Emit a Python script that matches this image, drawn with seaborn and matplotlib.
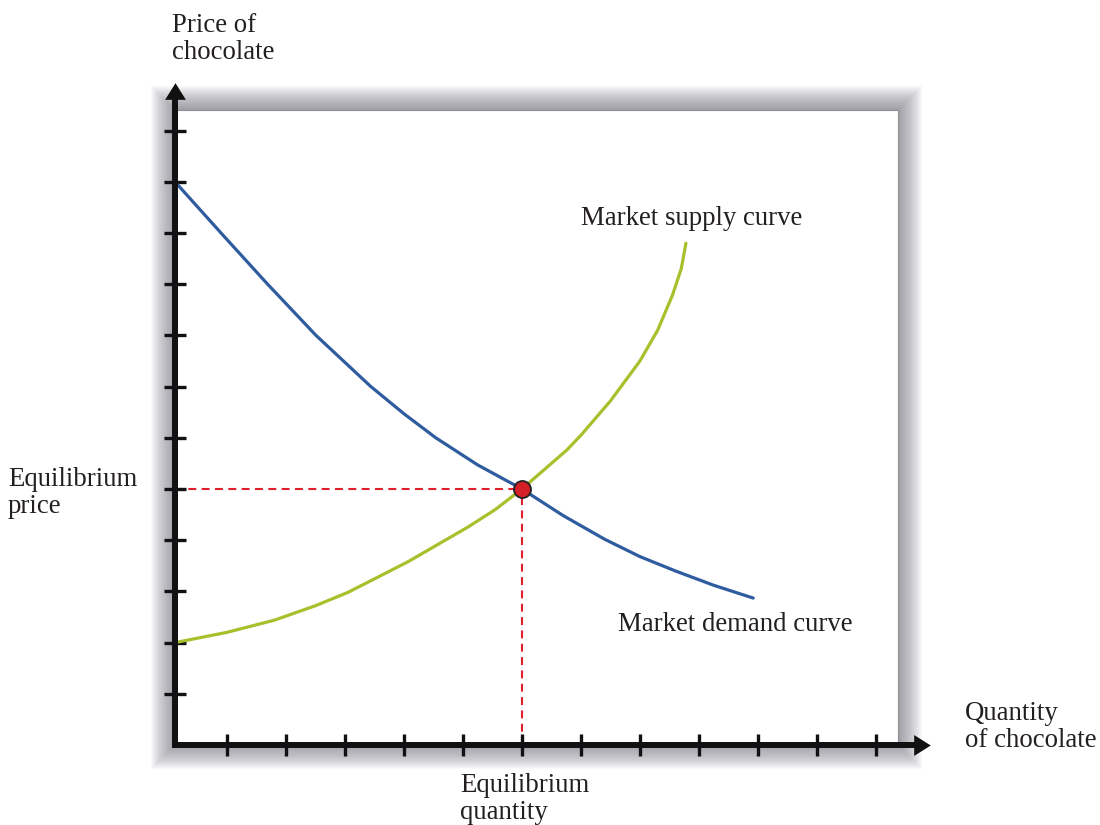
import matplotlib
matplotlib.use("Agg")
import matplotlib.pyplot as plt
from matplotlib.patches import Rectangle
import pandas as pd
import seaborn as sns

# values (x = quantity, y = price, in tick units)
demand_qty = [0.12, 0.9, 1.69, 2.51, 3.44, 4.0, 4.54, 5.25, 6.0, 6.7, 7.4, 8.0, 8.6, 9.25, 9.92]
demand_price = [11.0, 10.0, 9.0, 8.0, 7.0, 6.47, 6.0, 5.47, 5.0, 4.48, 4.02, 3.68, 3.4, 3.12, 2.87]
supply_qty = [0.12, 1.0, 1.81, 2.5, 3.05, 4.07, 5.09, 5.55, 6.0, 6.76, 7.0, 7.5, 8.0, 8.3, 8.55, 8.7, 8.78]
supply_price = [2.0, 2.2, 2.44, 2.72, 2.98, 3.58, 4.26, 4.6, 5.0, 5.76, 6.05, 6.72, 7.5, 8.1, 8.78, 9.3, 9.8]
eq_qty = [6.0]
eq_price = [5.0]
x_ticks = list(range(1, 13))
y_ticks = list(range(1, 13))

demand = pd.DataFrame({"qty": demand_qty, "price": demand_price})
supply = pd.DataFrame({"qty": supply_qty, "price": supply_price})
eq = pd.DataFrame({"qty": eq_qty, "price": eq_price})

sns.set_theme(style="white")
plt.rcParams["font.family"] = ["Liberation Serif", "DejaVu Serif"]

W, H = 1100, 825
fig = plt.figure(figsize=(W / 100, H / 100), dpi=100)
fig.patch.set_facecolor("white")

x0, x1, y0, y1 = 0.12, 13.0, 0.0, 13.0
px_x, px_y = 59.0, 51.2  # pixels per data unit
ax = fig.add_axes([175 / W, (H - 745) / H, (x1 - x0) * px_x / W, (y1 - y0) * px_y / H])
ax.set_xlim(x0, x1)
ax.set_ylim(y0, y1)
ax.set_facecolor("white")
ax.set_axisbelow(False)
for s in ax.spines.values():
    s.set_visible(False)

# panel with soft shadow
pan_r, pan_t = 12.37, 12.4
n = 24
for d in range(n, 0, -1):
    dx, dy = d / px_x, d / px_y
    ax.add_patch(Rectangle((x0 - dx, y0 - dy), pan_r - x0 + 2 * dx, pan_t - y0 + 2 * dy,
                           facecolor=(0.42, 0.42, 0.47), edgecolor="none", alpha=0.035,
                           zorder=0.5, clip_on=False))
ax.add_patch(Rectangle((x0, y0), pan_r - x0, pan_t - y0, facecolor="white",
                       edgecolor="#8e8e94", lw=0.8, zorder=1, clip_on=False))

# equilibrium guides
guide = dict(color="#e0202a", lw=1.5, ls=(0, (3.8, 2.6)), zorder=2)
ax.plot([x0, eq_qty[0]], [eq_price[0], eq_price[0]], **guide)
ax.plot([eq_qty[0], eq_qty[0]], [y0, eq_price[0]], **guide)

sns.lineplot(data=demand, x="qty", y="price", ax=ax, color="#2e5c9e", lw=2.3,
             sort=False, estimator=None, zorder=3)
sns.lineplot(data=supply, x="qty", y="price", ax=ax, color="#a9bf2c", lw=2.3,
             sort=False, estimator=None, zorder=3)

# axes lines and arrow heads
x_tip, y_tip = 12.92, 12.93
head = 8  # half head length in px
ax.plot([x0, x_tip - 2 * head / px_x], [0, 0], color="#111111", lw=4.3,
        solid_capstyle="projecting", clip_on=False, zorder=4)
ax.plot([x0, x0], [0, y_tip - 2 * head / px_y], color="#111111", lw=4.3,
        solid_capstyle="projecting", clip_on=False, zorder=4)
right_head = [(8, 0), (-8, 10), (-8, -10), (8, 0)]
up_head = [(0, 8), (-10, -8), (10, -8), (0, 8)]
ax.plot([x_tip - head / px_x], [0], marker=right_head, ms=15, color="#111111",
        mew=0, clip_on=False, zorder=4)
ax.plot([x0], [y_tip - head / px_y], marker=up_head, ms=15, color="#111111",
        mew=0, clip_on=False, zorder=4)

sns.scatterplot(data=eq, x="qty", y="price", ax=ax, s=150, color="#d42027",
                edgecolor="#222222", linewidth=1.3, zorder=6, clip_on=False)
ax.set_xlabel("")
ax.set_ylabel("")

ax.set_xticks(x_ticks)
ax.set_yticks(y_ticks)
ax.set_xticklabels([])
ax.set_yticklabels([])
ax.tick_params(axis="both", which="major", direction="inout", length=16, width=2.4,
               color="#111111", bottom=True, left=True, zorder=5)

fs = 19.3
def label(px, py, txt, **kw):
    fig.text(px / W, 1 - py / H, txt, fontsize=fs, color="#231f20",
             linespacing=1.1, **kw)

label(172, 13, "Price of\nchocolate", va="top", ha="left")
label(8, 467, "Equilibrium\nprice", va="top", ha="left")
label(581, 225, "Market supply curve", va="baseline", ha="left")
label(618, 631, "Market demand curve", va="baseline", ha="left")
label(965, 701, "Quantity\nof chocolate", va="top", ha="left")
label(460, 773, "Equilibrium\nquantity", va="top", ha="left")

fig.savefig("out.png", dpi=100, facecolor="white")
